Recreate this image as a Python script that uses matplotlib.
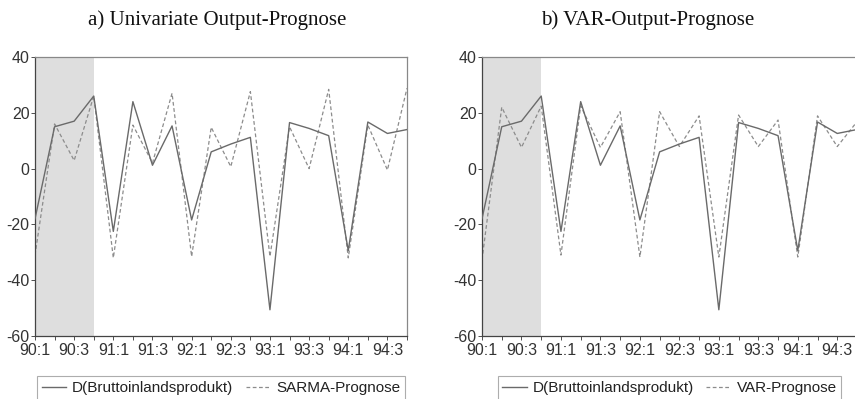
import matplotlib
matplotlib.use("Agg")
import matplotlib.pyplot as plt

plt.rcParams['font.family'] = ['Liberation Sans', 'DejaVu Sans']
plt.rcParams['axes.unicode_minus'] = False

quarters = ["90:1", "90:2", "90:3", "90:4", "91:1", "91:2", "91:3", "91:4",
            "92:1", "92:2", "92:3", "92:4", "93:1", "93:2", "93:3", "93:4",
            "94:1", "94:2", "94:3", "94:4"]
actual = [-18, 15, 17, 26, -22.5, 24, 1.2, 15.3, -18.4, 6, 8.8, 11.2,
          -50.6, 16.5, 14.4, 11.8, -29.4, 16.7, 12.6, 14]
sarma = [-31, 16, 2.9, 26, -32, 15.6, 2, 27, -31.5, 14.8, 0.7, 27.6,
         -31.5, 15, 0, 28.4, -32, 15.6, -0.5, 28.8]
var = [-32.7, 22, 7.6, 22.4, -31, 22.5, 7.6, 20.4, -31.7, 20.4, 7.9, 18.9,
       -31.7, 19.2, 7.9, 17.4, -31.7, 18.9, 7.9, 16.8]
titles = ["a) Univariate Output-Prognose", "b) VAR-Output-Prognose"]
labels_actual = "D(Bruttoinlandsprodukt)"
labels_fc = ["SARMA-Prognose", "VAR-Prognose"]
shade_end = 3

W, H = 855, 399
fig = plt.figure(figsize=(W / 100, H / 100), dpi=100)

panels = [(35, 407), (482, 857)]
top_px, bot_px = 57, 336
forecasts = [sarma, var]
title_x = [217, 648]

for i, (l, r) in enumerate(panels):
    ax = fig.add_axes([l / W, 1 - bot_px / H, (r - l) / W, (bot_px - top_px) / H])
    x = list(range(len(quarters)))
    ax.axvspan(0, shade_end, color='#dedede', lw=0, zorder=0)
    ax.plot(x, actual, color='#6a6a6a', lw=1.0, label=labels_actual, zorder=3)
    ax.plot(x, forecasts[i], color='#8c8c8c', lw=0.9, ls=(0, (3, 2)),
            label=labels_fc[i], zorder=2)
    ax.set_xlim(0, len(quarters) - 1)
    ax.set_ylim(-60, 40)
    ax.set_yticks([-60, -40, -20, 0, 20, 40])
    ax.set_xticks(x)
    ax.set_xticklabels([q if j % 2 == 0 else "" for j, q in enumerate(quarters)])
    ax.tick_params(axis='both', labelsize=11.5, colors='#333333', length=3,
                   width=0.6, direction='out', pad=2)
    ax.tick_params(axis='y', pad=1)
    for s in ['left', 'bottom']:
        ax.spines[s].set_color('#444444')
        ax.spines[s].set_linewidth(0.9)
    for s in ['top', 'right']:
        ax.spines[s].set_color('#888888')
        ax.spines[s].set_linewidth(0.9)
    leg = ax.legend(loc='upper center', bbox_to_anchor=(0.5, -0.145), ncol=2,
                    fontsize=11, frameon=True, fancybox=False,
                    handlelength=1.6, handletextpad=0.4, columnspacing=0.8,
                    borderpad=0.3, borderaxespad=0)
    leg.get_frame().set_edgecolor('#999999')
    leg.get_frame().set_linewidth(0.8)
    for t in leg.get_texts():
        t.set_color('#222222')
    fig.text(title_x[i] / W, 1 - 20 / H, titles[i], ha='center', va='center',
             fontsize=15, family=['Liberation Serif', 'DejaVu Serif'], color='#111111')

fig.savefig("out.png", dpi=100)
